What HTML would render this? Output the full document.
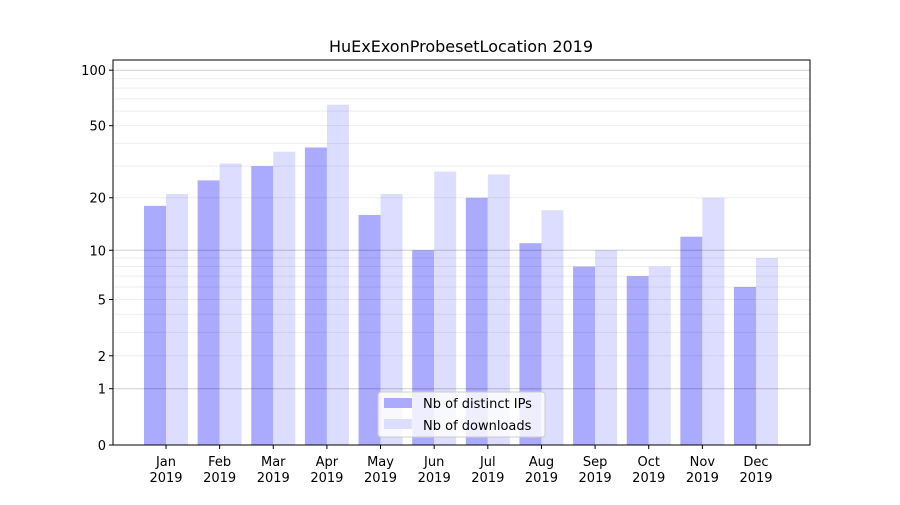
<!DOCTYPE html>
<html><head><meta charset="utf-8"><style>
body{margin:0;background:#fff;font-family:"Liberation Sans","DejaVu Sans",sans-serif;}
</style></head><body>
<svg id="chart" width="900" height="500" xmlns="http://www.w3.org/2000/svg" font-family="DejaVu Sans, Liberation Sans, sans-serif">
<rect width="900" height="500" fill="#fff"/>
<text x="461" y="52" text-anchor="middle" font-size="16">HuExExonProbesetLocation 2019</text>
<g id="bars"></g><g id="grid"></g><g id="axes"></g>
</svg>
<script>
const categories=["Jan","Feb","Mar","Apr","May","Jun","Jul","Aug","Sep","Oct","Nov","Dec"];
const ipValues=[18,25,30,38,16,10,20,11,8,7,12,6];
const downloadValues=[21,31,36,65,21,28,27,17,10,8,20,9];
const yTicks=[0,1,2,5,10,20,50,100];
const ns="http://www.w3.org/2000/svg";
const L=113,R=810,T=60,B=445;
function y(v){return B-187*Math.log10(1+v);}
function xc(i){return 166+i*(756-166)/(categories.length-1);}
function mk(tag,attrs,parent){const e=document.createElementNS(ns,tag);for(const k in attrs)e.setAttribute(k,attrs[k]);parent.appendChild(e);return e;}
const grid=document.getElementById('grid'),bars=document.getElementById('bars'),axes=document.getElementById('axes');
const gv=[1,2,3,4,5,6,7,8,9,10,20,30,40,50,60,70,80,90,100];
gv.forEach(v=>{const major=(v===1||v===10||v===100);const l=mk('line',{x1:L,x2:R,y1:y(v),y2:y(v),stroke:major?'#000':'#000','stroke-opacity':major?0.2:0.07,'stroke-width':1},grid);

});
categories.forEach((c,i)=>{
const x=xc(i);
const b1=mk('rect',{x:x-22,y:y(ipValues[i]),width:22,height:B-y(ipValues[i]),fill:'#aaaaff'},bars);


const b2=mk('rect',{x:x,y:y(downloadValues[i]),width:22,height:B-y(downloadValues[i]),fill:'#ddddff'},bars);


mk('line',{x1:x,x2:x,y1:B,y2:B+4,stroke:'#000'},axes);
const t=mk('text',{x:x,y:B+21,'text-anchor':'middle','font-size':13},axes);t.textContent=c;


const t2=mk('text',{x:x,y:B+37,'text-anchor':'middle','font-size':13},axes);t2.textContent='2019';


});
yTicks.forEach(v=>{mk('line',{x1:L-4,x2:L,y1:y(v),y2:y(v),stroke:'#000'},axes);
const t=mk('text',{x:L-7,y:y(v)+5,'text-anchor':'end','font-size':13},axes);t.textContent=v;

});
const frame=mk('rect',{x:L,y:T,width:R-L,height:B-T,fill:'none',stroke:'#000','stroke-width':1},axes);


const lg=mk('g',{},axes);


mk('rect',{x:378,y:392,width:167,height:45,rx:3,fill:'#fff','fill-opacity':0.8,stroke:'#ccc'},lg);
mk('rect',{x:384,y:398,width:28,height:10,fill:'#aaaaff'},lg);
mk('rect',{x:384,y:419,width:28,height:10,fill:'#ddddff'},lg);
const l1=mk('text',{x:423,y:408,'font-size':13},lg);l1.textContent='Nb of distinct IPs';


const l2=mk('text',{x:423,y:430,'font-size':13},lg);l2.textContent='Nb of downloads';


</script>
</body></html>
